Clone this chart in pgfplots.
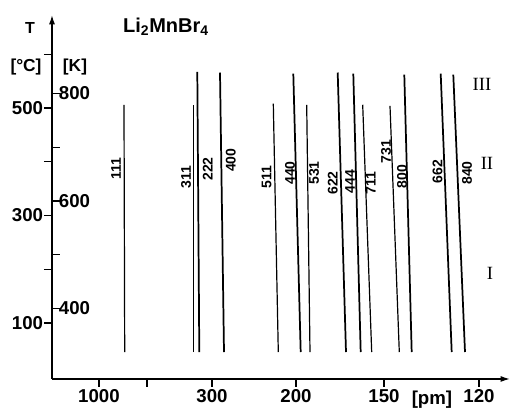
\documentclass[border=0pt]{standalone}
\usepackage{fontspec}
\setmainfont{Liberation Sans}
\newfontfamily\romanfont{Liberation Serif}
\usepackage{pgfplots}
\pgfplotsset{compat=1.18}
\usetikzlibrary{arrows.meta}

\begin{document}
\begin{tikzpicture}
\begin{axis}[
 scale only axis, width=343.5pt, height=273pt,
 xmin=52, xmax=510, ymin=-4.19, ymax=673.02,
 axis x line=bottom, axis y line=left,
 axis line style={line width=1.1pt, -{Latex[length=7pt,width=4.5pt]}},
 clip=false,
 xtick={99,147,212,296,384,479},
 xticklabels={1000,,300,200,150,120},
 ytick={100,200,300,400,500,600},
 yticklabels={100,,300,,500,},
 tick align=outside,
 major tick length=6pt,
 tick style={line width=1pt, black},
 ticklabel style={font=\fontsize{14}{16}\selectfont\bfseries},
 xticklabel style={inner sep=2pt},
 yticklabel style={inner sep=0.5pt},
 /pgf/number format/assume math mode=true,
 extra y ticks={126.85,226.85,326.85,426.85,526.85},
 extra y tick labels={400,,600,,800},
 extra y tick style={tick align=inside, yticklabel style={anchor=west, xshift=5pt, inner sep=0pt}},
]
% odd reflections (vanish at ~505 C)
\addplot[black, line width=0.9pt] coordinates {(124.7,46) (124,506)};
\addplot[black, line width=0.9pt] coordinates {(193.3,46) (193.3,506)};
\addplot[black, line width=0.9pt] coordinates {(278.3,46) (273.3,508)};
\addplot[black, line width=0.9pt] coordinates {(310,46) (306.7,506)};
\addplot[black, line width=0.9pt] coordinates {(371.7,46) (362.7,506)};
\addplot[black, line width=0.9pt] coordinates {(399.3,46) (390,504)};
% even reflections (to ~565 C)
\addplot[black, line width=1.3pt] coordinates {(199.3,46) (197.3,567)};
\addplot[black, line width=1.3pt] coordinates {(224,46) (220,566)};
\addplot[black, line width=1.3pt] coordinates {(300.7,46) (293.3,564)};
\addplot[black, line width=1.3pt] coordinates {(346,46) (337.7,566)};
\addplot[black, line width=1.3pt] coordinates {(360.7,46) (353.3,564)};
\addplot[black, line width=1.3pt] coordinates {(411.7,46) (404.3,562)};
\addplot[black, line width=1.3pt] coordinates {(451.7,46) (440.7,564)};
\addplot[black, line width=1.3pt] coordinates {(465,46) (453.3,562)};

\begin{scope}[every node/.style={rotate=90, font=\fontsize{10.5}{12}\selectfont\bfseries, inner sep=0pt}]
\node at (axis cs:116,388) {111};
\node at (axis cs:186,372) {311};
\node at (axis cs:207.7,386.5) {222};
\node at (axis cs:230.7,403) {400};
\node at (axis cs:266.7,372) {511};
\node at (axis cs:290,379) {440};
\node at (axis cs:314,379) {531};
\node at (axis cs:332.7,360.5) {622};
\node at (axis cs:350,363) {444};
\node at (axis cs:370.7,360.5) {711};
\node at (axis cs:386,418.7) {731};
\node at (axis cs:402,372) {800};
\node at (axis cs:437.5,381.5) {662};
\node at (axis cs:467,379) {840};
\end{scope}

\node[font=\romanfont\fontsize{14}{16}\selectfont] at (axis cs:482,543) {III};
\node[font=\romanfont\fontsize{14}{16}\selectfont] at (axis cs:487,397.7) {II};
\node[font=\romanfont\fontsize{14}{16}\selectfont] at (axis cs:490,193) {I};

\node[font=\fontsize{15}{17}\selectfont\bfseries] at (axis cs:166,651) {Li\textsubscript{2}MnBr\textsubscript{4}};
\node[font=\fontsize{12}{14}\selectfont\bfseries] at (axis cs:30,649) {T};
\node[font=\fontsize{13}{15}\selectfont\bfseries] at (axis cs:26,576) {[°C]};
\node[font=\fontsize{13}{15}\selectfont\bfseries] at (axis cs:75,576) {[K]};
\node[font=\fontsize{14}{16}\selectfont\bfseries] at (axis cs:432,-43.3) {[pm]};

\coordinate (bbsw) at (axis cs:0,-63.7);
\coordinate (bbne) at (axis cs:512,700.9);
\end{axis}
\pgfresetboundingbox
\path[use as bounding box] (bbsw) rectangle (bbne);
\end{tikzpicture}
\end{document}
